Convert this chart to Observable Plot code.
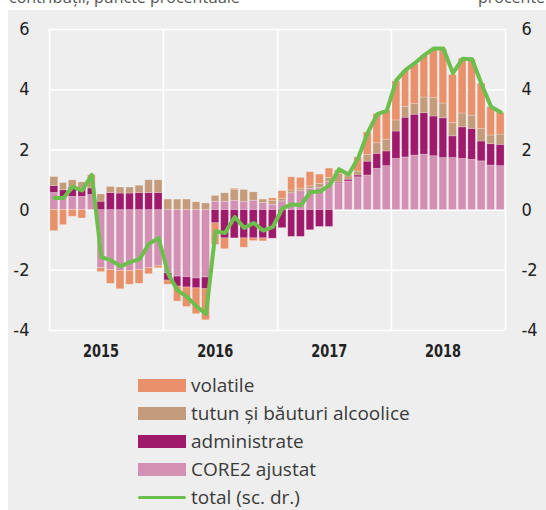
<!DOCTYPE html>
<html>
<head>
<meta charset="utf-8">
<script src="https://cdn.jsdelivr.net/npm/d3@7"></script>
<script src="https://cdn.jsdelivr.net/npm/@observablehq/plot@0.6"></script>
<style>
  html, body { margin: 0; padding: 0; background: #ffffff; }
  body { width: 546px; height: 510px; overflow: hidden; position: relative; font-family: "Open Sans", sans-serif; }
  #panel { position: absolute; left: 8px; top: 10px; width: 538px; height: 500px; background: #eeeeee; }
  #chart { position: absolute; left: 0; top: 0; }
  .unit { position: absolute; font-size: 16px; line-height: 16px; color: #555; white-space: nowrap; }
  .leg { position: absolute; left: 130px; height: 20px; display: flex; align-items: center; white-space: nowrap; font-size: 19px; color: #3a3a3a; }
  .sw { width: 48px; height: 13px; margin-right: 5px; }
  .ln { width: 48px; height: 3px; margin-right: 5px; border-radius: 2px; }
</style>
</head>
<body>
<div class="unit" style="left:9px; top:-11px;">contribuții, puncte procentuale</div>
<div class="unit" style="left:478px; top:-11px;">procente</div>
<div id="panel">
  <div id="chart"></div>
  <div id="legend"></div>
</div>
<script>
// ---- data (monthly, Jan 2015 – Dec 2018) ----
const startMonth = "2015-01-01";
const monthCount = 48;
const seriesNames = ["CORE2 ajustat", "administrate", "tutun și băuturi alcoolice", "volatile"];
const seriesColors = ["#d390b2", "#a01a6b", "#c49b7b", "#e8916a"];
const totalName = "total (sc. dr.)";
const totalColor = "#6cbf4c";
const legendOrder = ["volatile", "tutun și băuturi alcoolice", "administrate", "CORE2 ajustat"];

const core2 = [
  0.57, 0.44, 0.44, 0.44, 0.50, -1.93, -1.99, -2.02, -2.02, -1.99, -1.93, -1.85,
  -2.10, -2.21, -2.23, -2.27, -2.24, 0.28, 0.28, 0.31, 0.28, 0.31, 0.24, 0.18,
  0.29, 0.56, 0.63, 0.71, 0.74, 0.93, 0.89, 0.95, 1.09, 1.15, 1.37, 1.46,
  1.70, 1.75, 1.81, 1.84, 1.79, 1.73, 1.73, 1.70, 1.67, 1.62, 1.48, 1.46
];
const administrate = [
  0.23, 0.22, 0.33, 0.30, 0.22, 0.28, 0.57, 0.55, 0.55, 0.57, 0.57, 0.57,
  -0.24, -0.33, -0.34, -0.33, -0.39, -0.44, -0.94, -0.94, -0.94, -0.94, -0.94, -0.95,
  -0.60, -0.89, -0.89, -0.67, -0.56, -0.56, 0.03, 0.06, 0.06, 0.46, 0.50, 0.49,
  0.91, 1.32, 1.36, 1.38, 1.32, 1.32, 0.72, 1.05, 1.03, 0.66, 0.71, 0.71
];
const tutun = [
  0.30, 0.24, 0.22, 0.18, 0.25, 0.24, 0.20, 0.20, 0.20, 0.24, 0.42, 0.42,
  0.35, 0.35, 0.35, 0.26, 0.22, 0.19, 0.28, 0.37, 0.39, 0.28, 0.11, 0.13,
  0.09, 0.09, 0.08, 0.08, 0.13, 0.14, 0.28, 0.11, 0.13, 0.22, 0.35, 0.39,
  0.37, 0.36, 0.35, 0.52, 0.61, 0.49, 0.44, 0.46, 0.44, 0.41, 0.29, 0.34
];
const volatile = [
  -0.70, -0.50, -0.22, -0.28, 0.19, -0.13, -0.46, -0.61, -0.46, -0.46, -0.20, -0.08,
  -0.14, -0.50, -0.65, -0.86, -1.03, -0.72, -0.36, 0.03, -0.31, -0.09, -0.10, 0.08,
  0.25, 0.44, 0.36, 0.47, 0.31, 0.31, 0.12, 0.05, 0.47, 0.75, 0.97, 0.97,
  1.30, 1.20, 1.32, 1.38, 1.62, 1.80, 1.60, 1.82, 1.85, 1.51, 0.94, 0.72
];
const total = [
  0.40, 0.40, 0.78, 0.65, 1.17, -1.56, -1.66, -1.87, -1.73, -1.63, -1.12, -0.93,
  -2.12, -2.67, -2.88, -3.20, -3.45, -0.70, -0.76, -0.23, -0.59, -0.43, -0.68, -0.56,
  0.06, 0.19, 0.16, 0.60, 0.62, 0.82, 1.36, 1.18, 1.73, 2.57, 3.19, 3.30,
  4.32, 4.66, 4.88, 5.15, 5.37, 5.37, 4.55, 5.03, 5.01, 4.18, 3.43, 3.25
];
const yTicks = [-4, -2, 0, 2, 4, 6];
const yearLabels = ["2015", "2016", "2017", "2018"];

// ---- build tables ----
const start = new Date(startMonth + "T00:00:00Z");
const months = d3.utcMonth.range(start, d3.utcMonth.offset(start, monthCount));
const seriesValues = [core2, administrate, tutun, volatile];
const rows = [];
months.forEach((m, i) => {
  seriesNames.forEach((s, j) => rows.push({date: m, series: s, value: seriesValues[j][i]}));
});
const lineRows = months.map((m, i) => ({
  mid: new Date((+m + +d3.utcMonth.offset(m, 1)) / 2),
  total: total[i]
}));
const yearStarts = d3.utcYear.range(start, d3.utcMonth.offset(start, monthCount + 1));
const yearMids = yearLabels.map(y => new Date(y + "-07-01T00:00:00Z"));

const tickFont = '"DejaVu Sans Condensed", "DejaVu Sans", sans-serif';

const chart = Plot.plot({
  width: 538,
  height: 352,
  marginLeft: 41,
  marginRight: 41,
  marginTop: 19,
  marginBottom: 32,
  style: {background: "transparent", fontFamily: tickFont, color: "#222"},
  x: {type: "utc", domain: [start, d3.utcMonth.offset(start, monthCount)], axis: null},
  y: {domain: [-4, 6], axis: null},
  color: {domain: seriesNames, range: seriesColors},
  marks: [
    Plot.ruleY(yTicks, {stroke: "#ffffff", strokeWidth: 1.6}),
    Plot.ruleX(yearStarts, {stroke: "#ffffff", strokeWidth: 1.6}),
    Plot.rectY(rows, {
      x: "date", interval: "month", y: "value", fill: "series",
      insetLeft: 0.9, insetRight: 0.9,
      stroke: "#ffffff", strokeOpacity: 0.3, strokeWidth: 0.8
    }),
    Plot.line(lineRows, {x: "mid", y: "total", stroke: totalColor, strokeWidth: 4, strokeLinejoin: "round", strokeLinecap: "round"}),
    Plot.text(yTicks, {y: d => d, text: d => String(d), frameAnchor: "left", textAnchor: "end", dx: -20, fontSize: 18, fill: "#222"}),
    Plot.text(yTicks, {y: d => d, text: d => String(d), frameAnchor: "right", textAnchor: "start", dx: 16, fontSize: 18, fill: "#222"}),
    Plot.text(yearMids, {x: d => d, text: (d, i) => yearLabels[i], frameAnchor: "bottom", lineAnchor: "top", dy: 14, dx: -5, fontSize: 18, fontWeight: 600, fill: "#222"})
  ]
});
document.getElementById("chart").appendChild(chart);
// narrow the year labels (condensed look)
d3.select(chart).selectAll("text")
  .filter(function() { return yearLabels.includes(this.textContent); })
  .each(function() {
    const t = this.getAttribute("transform") || "";
    this.setAttribute("transform", t + " scale(0.8,1)");
  });

// ---- legend ----
const legend = document.getElementById("legend");
const rowTops = [365, 393, 421, 449, 477];
legendOrder.forEach((name, i) => {
  const d = document.createElement("div");
  d.className = "leg";
  d.style.top = rowTops[i] + "px";
  const sw = document.createElement("div");
  sw.className = "sw";
  sw.style.background = seriesColors[seriesNames.indexOf(name)];
  d.appendChild(sw);
  d.appendChild(document.createTextNode(name));
  legend.appendChild(d);
});
const dl = document.createElement("div");
dl.className = "leg";
dl.style.top = rowTops[4] + "px";
const ln = document.createElement("div");
ln.className = "ln";
ln.style.background = totalColor;
dl.appendChild(ln);
dl.appendChild(document.createTextNode(totalName));
legend.appendChild(dl);
</script>
</body>
</html>
